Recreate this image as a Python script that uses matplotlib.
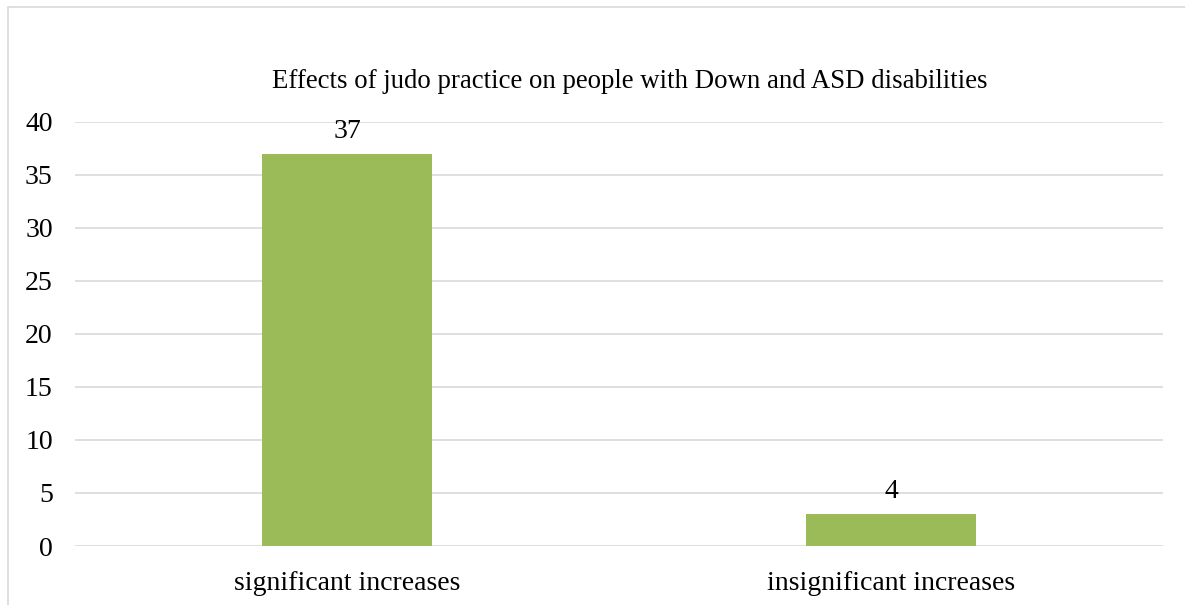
import matplotlib
matplotlib.use("Agg")
import matplotlib.pyplot as plt
from matplotlib.patches import Rectangle

categories = ["significant increases", "insignificant increases"]
values = [37, 3]
value_labels = ["37", "4"]
yticks = [0, 5, 10, 15, 20, 25, 30, 35, 40]
title = "Effects of judo practice on people with Down and ASD disabilities"

plt.rcParams['font.family'] = ['Liberation Serif', 'DejaVu Serif']

W, H = 1185, 605
fig = plt.figure(figsize=(W / 100, H / 100), dpi=100)
fig.patch.set_facecolor("white")

# outer chart border (only top and left visible)
fig.add_artist(Rectangle((8 / W, -0.1), 1.2, 1 - 7 / H + 0.1, transform=fig.transFigure,
                         fill=False, edgecolor="#d9d9d9", linewidth=1.2))

ax = fig.add_axes([75 / W, 1 - 546 / H, (1163 - 75) / W, (546 - 122) / H])
x = list(range(len(categories)))
ax.bar(x, values, width=0.3125, color="#9bbb59", zorder=3)
ax.set_xlim(-0.5, 1.5)
ax.set_ylim(0, 40)
ax.set_yticks(yticks)
ax.set_yticklabels([str(t) for t in yticks])
ax.set_xticks(x)
ax.set_xticklabels(categories)
ax.yaxis.grid(True, color="#d9d9d9", linewidth=1.2, zorder=0)
ax.set_axisbelow(True)
for s in ax.spines.values():
    s.set_visible(False)
ax.tick_params(axis="both", length=0, labelsize=20, colors="black")
ax.tick_params(axis="y", pad=16)
ax.tick_params(axis="x", pad=18)

for xi, v, lab in zip(x, values, value_labels):
    ax.annotate(lab, (xi, v), xytext=(0, 7), textcoords="offset points",
                ha="center", va="bottom", fontsize=20)

fig.text(630 / W, 1 - 81 / H, title, ha="center", va="center", fontsize=19.3)

fig.savefig("out.png", dpi=100)
